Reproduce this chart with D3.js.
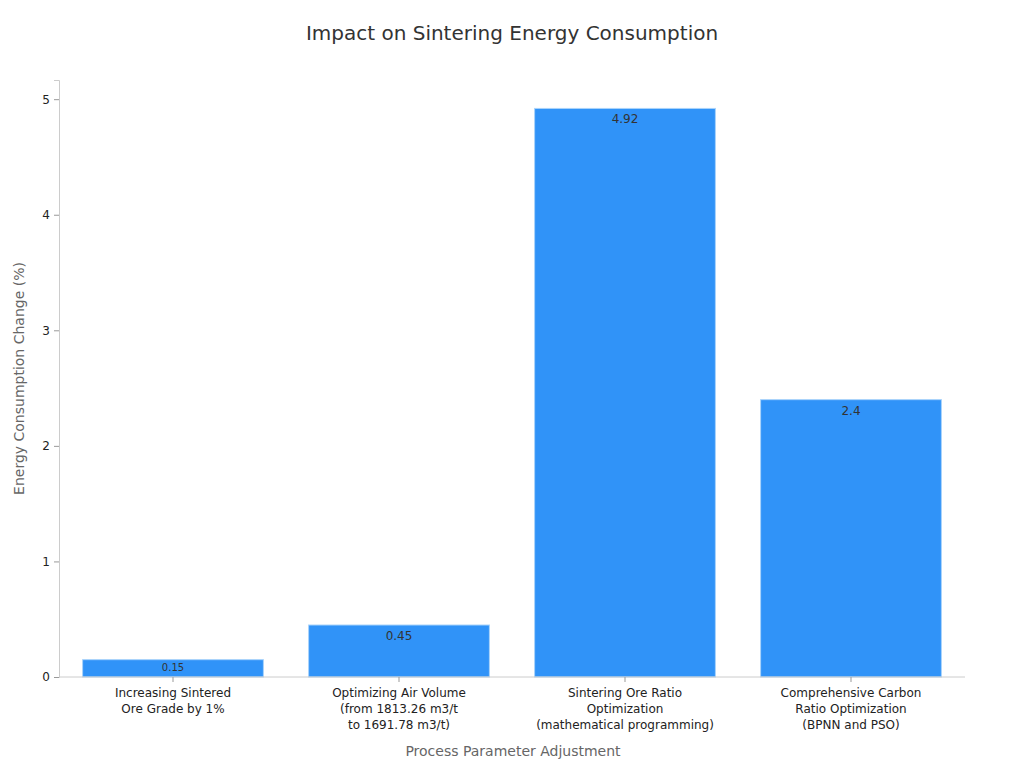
<!DOCTYPE html>
<html><head><meta charset="utf-8">
<script src="https://cdn.jsdelivr.net/npm/d3@7"></script>
<style>body{margin:0;background:#fff;font-family:"DejaVu Sans",sans-serif;}</style>
</head><body><svg id="c" width="1024" height="768"></svg>
<script>
const categories = [
  ["Increasing Sintered","Ore Grade by 1%"],
  ["Optimizing Air Volume","(from 1813.26 m3/t","to 1691.78 m3/t)"],
  ["Sintering Ore Ratio","Optimization","(mathematical programming)"],
  ["Comprehensive Carbon","Ratio Optimization","(BPNN and PSO)"]
];
const values = [0.15, 0.45, 4.92, 2.4];
const labelSizes = [10, 12, 12, 12];
const yTicks = [0,1,2,3,4,5];

const svg = d3.select("#c");
const m = {l:59, r:61, t:80, b:91};
const W = 1024, H = 768;
const x = d3.scaleBand().domain(d3.range(categories.length)).range([m.l+1, W-m.r+1]).paddingInner(0.2).paddingOuter(0.1);
const y = d3.scaleLinear().domain([0, 4.92*1.05]).range([H-m.b, m.t]);

svg.append("text").attr("x", 512).attr("y", 40).attr("text-anchor","middle")
  .attr("font-size",20).attr("fill","#333").text("Impact on Sintering Energy Consumption");

// bars
svg.selectAll("rect.bar").data(values).enter().append("rect")
  .attr("x",(d,i)=>x(i)).attr("width",x.bandwidth())
  .attr("y",d=>y(d)).attr("height",d=>y(0)-y(d))
  .attr("fill","#3093f8").attr("stroke","#a9d3fb").attr("stroke-width",1);

svg.selectAll("text.val").data(values).enter().append("text")
  .attr("x",(d,i)=>x(i)+x.bandwidth()/2).attr("y",(d,i)=>y(d)+ (labelSizes[i]+(i===0?1:3)))
  .attr("text-anchor","middle").attr("font-size",(d,i)=>labelSizes[i]).attr("fill","#333")
  .text(d=>d);

// y axis
const ya = svg.append("g").attr("transform",`translate(${m.l},0)`)
  .call(d3.axisLeft(y).tickValues(yTicks).tickFormat(d3.format("d")).tickSize(5).tickPadding(4));
ya.select(".domain").attr("stroke","#ccc");
ya.selectAll(".tick line").attr("stroke","#999");
ya.selectAll(".tick text").attr("font-size",12).attr("fill","#222").attr("font-family","DejaVu Sans");

// x axis
const xa = svg.append("g").attr("transform",`translate(0,${H-m.b})`)
  .call(d3.axisBottom(x).tickSize(5).tickFormat(""));
xa.select(".domain").attr("stroke","#ccc").attr("d",`M${m.l},0H${W-m.r+2}`);
xa.selectAll(".tick line").attr("stroke","#999");
xa.selectAll(".tick").each(function(d){
  const t = d3.select(this).append("text").attr("fill","#222").attr("font-size",12)
    .attr("text-anchor","middle").attr("font-family","DejaVu Sans");
  categories[d].forEach((ln,k)=>t.append("tspan").attr("x",0).attr("y",20+k*16).text(ln));
});

svg.append("text").attr("x",(m.l+W-m.r)/2+2).attr("y",756).attr("text-anchor","middle")
  .attr("font-size",14).attr("fill","#666").text("Process Parameter Adjustment");
svg.append("text").attr("transform",`translate(24,${(m.t+H-m.b)/2}) rotate(-90)`)
  .attr("text-anchor","middle").attr("font-size",14).attr("fill","#666").text("Energy Consumption Change (%)");
</script></body></html>
